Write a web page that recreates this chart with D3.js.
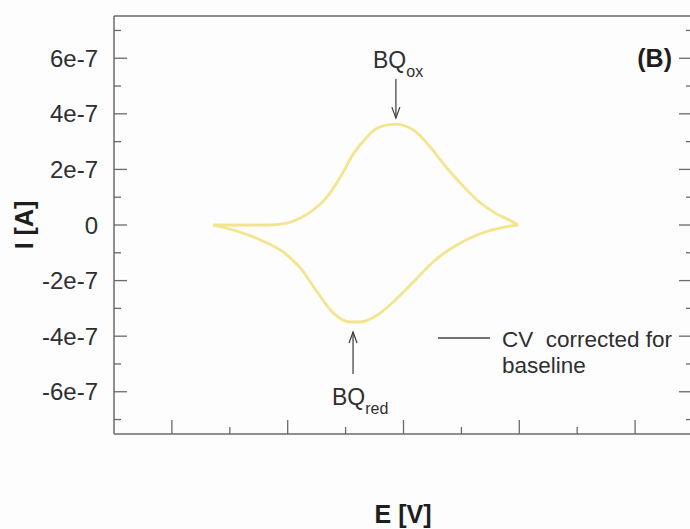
<!DOCTYPE html>
<html>
<head>
<meta charset="utf-8">
<script src="https://cdn.jsdelivr.net/npm/d3@7"></script>
<style>
  html, body { margin: 0; padding: 0; background: #fdfdfd; }
  svg { display: block; font-family: "Liberation Sans", Arial, sans-serif; }
</style>
</head>
<body>
<div id="chart"></div>
<script>
// anodic (forward) scan, E in V and I in A
const upperE = [-0.329, -0.294, -0.235, -0.201, -0.178, -0.156, -0.132, -0.109, -0.087, -0.063, -0.045, -0.014, 0.017, 0.046, 0.075, 0.098, 0.127, 0.155, 0.189, 0.198];
const upperI = [0, 0, 0, 0.07e-7, 0.25e-7, 0.54e-7, 1.01e-7, 1.73e-7, 2.55e-7, 3.17e-7, 3.49e-7, 3.63e-7, 3.42e-7, 2.81e-7, 2.05e-7, 1.51e-7, 0.90e-7, 0.47e-7, 0.11e-7, 0];
// cathodic (reverse) scan
const lowerE = [0.198, 0.176, 0.127, 0.086, 0.051, 0.017, -0.018, -0.045, -0.075, -0.092, -0.121, -0.149, -0.178, -0.208, -0.247, -0.294, -0.329];
const lowerI = [0, -0.07e-7, -0.36e-7, -0.79e-7, -1.33e-7, -2.05e-7, -2.77e-7, -3.24e-7, -3.49e-7, -3.49e-7, -3.17e-7, -2.41e-7, -1.55e-7, -0.97e-7, -0.54e-7, -0.18e-7, 0];

const yTicks = [6e-7, 4e-7, 2e-7, 0, -2e-7, -4e-7, -6e-7];
const yTickLabels = ["6e-7", "4e-7", "2e-7", "0", "-2e-7", "-4e-7", "-6e-7"];
const yMinor = [7e-7, 5e-7, 3e-7, 1e-7, -1e-7, -3e-7, -5e-7, -7e-7];
const xTicks = [-0.4, -0.2, 0, 0.2, 0.4];
const xMinor = [-0.3, -0.1, 0.1, 0.3];

const peakOx = [-0.014, 3.63e-7];
const peakRed = [-0.088, -3.49e-7];

const width = 690, height = 529;
const plot = { left: 114, right: 693, top: 16, bottom: 434 };
const axisColor = "#6a6a6a";
const textColor = "#2f2f2f";

const svg = d3.select("#chart").append("svg")
  .attr("width", width)
  .attr("height", height);

svg.append("rect").attr("width", width).attr("height", height).attr("fill", "#fdfdfd");

const x = d3.scaleLinear().domain([-0.5, 0.5]).range([plot.left, plot.right]);
const y = d3.scaleLinear().domain([-7.52e-7, 7.52e-7]).range([plot.bottom, plot.top]);

// frame
const frame = svg.append("g").attr("stroke", axisColor).attr("fill", "none").attr("stroke-width", 1.5);
frame.append("line").attr("x1", plot.left).attr("x2", plot.right).attr("y1", plot.top).attr("y2", plot.top);
frame.append("line").attr("x1", plot.left).attr("x2", plot.left).attr("y1", plot.top).attr("y2", plot.bottom);
frame.append("line").attr("x1", plot.left).attr("x2", plot.right).attr("y1", plot.bottom).attr("y2", plot.bottom);
frame.append("line").attr("x1", plot.right).attr("x2", plot.right).attr("y1", plot.top).attr("y2", plot.bottom);

// ticks (inward)
const ticks = svg.append("g").attr("stroke", axisColor).attr("stroke-width", 1.3);
yTicks.forEach(v => {
  ticks.append("line").attr("x1", plot.left).attr("x2", plot.left + 13).attr("y1", y(v)).attr("y2", y(v));
  ticks.append("line").attr("x1", plot.right).attr("x2", plot.right - 14).attr("y1", y(v)).attr("y2", y(v));
});
yMinor.forEach(v => {
  ticks.append("line").attr("x1", plot.left).attr("x2", plot.left + 7).attr("y1", y(v)).attr("y2", y(v));
  ticks.append("line").attr("x1", plot.right).attr("x2", plot.right - 7).attr("y1", y(v)).attr("y2", y(v));
});
xTicks.forEach(v => {
  ticks.append("line").attr("x1", x(v)).attr("x2", x(v)).attr("y1", plot.bottom).attr("y2", plot.bottom - 14);
});
xMinor.forEach(v => {
  ticks.append("line").attr("x1", x(v)).attr("x2", x(v)).attr("y1", plot.bottom).attr("y2", plot.bottom - 7);
});

// y tick labels
svg.append("g")
  .selectAll("text")
  .data(yTicks)
  .join("text")
  .attr("x", 98)
  .attr("y", d => y(d))
  .attr("dy", "0.36em")
  .attr("text-anchor", "end")
  .attr("fill", textColor)
  .style("font-size", "24px")
  .text((d, i) => yTickLabels[i]);

// axis titles
svg.append("text")
  .attr("transform", `translate(33,${y(0)}) rotate(-90)`)
  .attr("text-anchor", "middle")
  .attr("fill", "#1e1e1e")
  .style("font-size", "25px")
  .style("font-weight", "bold")
  .text("I [A]");

svg.append("text")
  .attr("x", 403)
  .attr("y", 523)
  .attr("text-anchor", "middle")
  .attr("fill", "#1e1e1e")
  .style("font-size", "25px")
  .style("font-weight", "bold")
  .text("E [V]");

svg.append("text")
  .attr("x", 672)
  .attr("y", 67)
  .attr("text-anchor", "end")
  .attr("fill", "#1e1e1e")
  .style("font-size", "25px")
  .style("font-weight", "bold")
  .text("(B)");

// CV curve, drawn per branch with x increasing so monotoneX keeps the peaks
const line = d3.line()
  .x(d => x(d[0]))
  .y(d => y(d[1]))
  .curve(d3.curveMonotoneX);

const curveG = svg.append("g")
  .attr("fill", "none")
  .attr("stroke", "#f4e48e")
  .attr("stroke-width", 2.8)
  .attr("stroke-linejoin", "round");
curveG.append("path").attr("d", line(d3.zip(upperE, upperI)));
curveG.append("path").attr("d", line(d3.zip(lowerE, lowerI).reverse()));

// peak annotations
function arrow(x0, yFrom, yTo) {
  const dir = yTo > yFrom ? 1 : -1;
  const g = svg.append("g").attr("stroke", "#3a3a3a").attr("fill", "none").attr("stroke-width", 1.2);
  g.append("line").attr("x1", x0).attr("x2", x0).attr("y1", yFrom).attr("y2", yTo);
  g.append("path").attr("d", `M${x0 - 4},${yTo - dir * 11} L${x0},${yTo} L${x0 + 4},${yTo - dir * 11}`);
}

arrow(x(peakOx[0]) + 0.5, 79, y(peakOx[1]) - 6);
arrow(x(peakRed[0]) + 0.5, 374, y(peakRed[1]) + 10);

function peakLabel(px, py, sub) {
  const t = svg.append("text")
    .attr("x", px)
    .attr("y", py)
    .attr("fill", textColor)
    .style("font-size", "23px");
  t.append("tspan").text("BQ");
  t.append("tspan").attr("dy", 9).style("font-size", "16px").text(sub);
}
peakLabel(373, 68, "ox");
peakLabel(332, 405, "red");

// legend
svg.append("line")
  .attr("x1", 438).attr("x2", 490)
  .attr("y1", 338).attr("y2", 338)
  .attr("stroke", "#444").attr("stroke-width", 1.4);

const leg = svg.append("text")
  .attr("fill", textColor)
  .style("font-size", "22.5px")
  .style("white-space", "pre");
leg.append("tspan").attr("x", 502).attr("y", 347).text("CV  corrected for");
leg.append("tspan").attr("x", 502).attr("y", 373).text("baseline");
</script>
</body>
</html>
